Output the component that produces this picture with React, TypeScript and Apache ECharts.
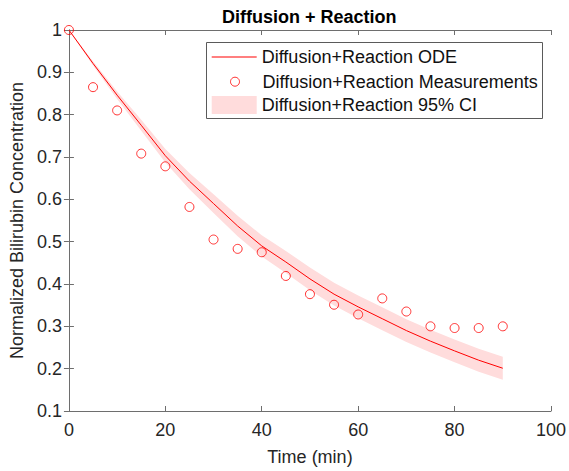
import React, { useEffect, useRef } from "react";
import * as echarts from "echarts";

const timeMin = [0, 5, 10, 15, 20, 25, 30, 35, 40, 45, 50, 55, 60, 65, 70, 75, 80, 85, 90];
const measured = [1.0, 0.865, 0.81, 0.708, 0.678, 0.582, 0.505, 0.483, 0.475, 0.419, 0.376, 0.351, 0.328, 0.366, 0.335, 0.3, 0.296, 0.296, 0.3];
const odeFit = [1.0, 0.921, 0.846, 0.775, 0.703, 0.643, 0.59, 0.537, 0.49, 0.452, 0.412, 0.376, 0.346, 0.318, 0.29, 0.265, 0.242, 0.22, 0.201];
const ciUpper = [1.0, 0.926, 0.855, 0.788, 0.719, 0.662, 0.612, 0.561, 0.515, 0.478, 0.439, 0.403, 0.373, 0.345, 0.317, 0.292, 0.269, 0.247, 0.228];
const ciLower = [1.0, 0.916, 0.837, 0.762, 0.687, 0.624, 0.568, 0.513, 0.465, 0.426, 0.385, 0.349, 0.319, 0.291, 0.263, 0.238, 0.215, 0.193, 0.174];

const titleText = "Diffusion + Reaction";
const xName = "Time (min)";
const yName = "Normalized Bilirubin Concentration";
const odeName = "Diffusion+Reaction ODE";
const measName = "Diffusion+Reaction Measurements";
const ciName = "Diffusion+Reaction 95% CI";

const FONT = "'Liberation Sans', Arial, Helvetica, sans-serif";
const RED = "#ff0000";
const BAND = "#ffdcdc";
const AXIS = "#6e6e6e";
const TXT = "#262626";

export default function App() {
  const ref = useRef<HTMLDivElement>(null);
  useEffect(() => {
    document.body.style.margin = "0";
    const chart = echarts.init(ref.current!, null, { renderer: "svg" });
    const axisCommon = {
      axisLine: { show: true, lineStyle: { color: AXIS, width: 1 } },
      axisTick: { show: true, inside: true, length: 5, lineStyle: { color: AXIS } },
      splitLine: { show: false },
    };
    const legendText = { fontSize: 18, color: "#111", fontFamily: FONT };
    chart.setOption({
      animation: false,
      backgroundColor: "#fff",
      textStyle: { fontFamily: FONT },
      title: {
        text: titleText,
        left: 222,
        top: 8,
        padding: 0,
        textStyle: { fontSize: 18, fontWeight: "bold", color: "#000", fontFamily: FONT },
      },
      grid: { left: 64, top: 30, right: 12, bottom: 55, containLabel: false },
      xAxis: [
        {
          type: "value",
          min: 0,
          max: 100,
          interval: 20,
          position: "bottom",
          name: xName,
          nameLocation: "middle",
          nameGap: 37,
          nameTextStyle: { fontSize: 18, color: TXT, fontFamily: FONT },
          axisLabel: { fontSize: 18, color: TXT, margin: 10, fontFamily: FONT },
          ...axisCommon,
        },
        {
          type: "value",
          min: 0,
          max: 100,
          interval: 20,
          position: "top",
          axisLabel: { show: false },
          ...axisCommon,
        },
      ],
      yAxis: [
        {
          type: "value",
          min: 0.1,
          max: 1,
          interval: 0.1,
          position: "left",
          name: yName,
          nameLocation: "middle",
          nameGap: 37,
          nameTextStyle: { fontSize: 18, color: TXT, fontFamily: FONT },
          axisLabel: { fontSize: 18, color: TXT, margin: 7, fontFamily: FONT },
          ...axisCommon,
        },
        {
          type: "value",
          min: 0.1,
          max: 1,
          interval: 0.1,
          position: "right",
          axisLabel: { show: false },
          ...axisCommon,
        },
      ],
      legend: [
        {
          data: [{ name: odeName, icon: "rect" }],
          left: 211.7,
          top: 48,
          padding: 0,
          itemWidth: 45,
          itemHeight: 1,
          selectedMode: false,
          itemStyle: { color: RED, borderWidth: 0 },
          textStyle: legendText,
        },
        {
          data: [{ name: measName, icon: "circle" }],
          left: 230,
          top: 72.7,
          padding: 0,
          itemWidth: 45,
          itemHeight: 9,
          selectedMode: false,
          itemStyle: { borderWidth: 1, borderColor: RED, color: "rgba(255,255,255,0)" },
          textStyle: legendText,
        },
        {
          data: [{ name: ciName, icon: "rect" }],
          left: 211.7,
          top: 96,
          padding: 0,
          itemWidth: 45,
          itemHeight: 18,
          selectedMode: false,
          itemStyle: { borderWidth: 0, color: BAND },
          textStyle: legendText,
        },
      ],
      graphic: [
        {
          type: "rect",
          z: 3,
          shape: { x: 206.5, y: 42.5, width: 336, height: 76 },
          style: { fill: "#fff", stroke: "#5a5a5a", lineWidth: 1 },
          silent: true,
        },
      ],
      series: [
        {
          name: ciName,
          type: "custom",
          data: timeMin.map((t, i) => [t, ciLower[i], ciUpper[i]]),
          encode: { x: 0, y: [1, 2] },
          itemStyle: { color: BAND },
          silent: true,
          z: 1,
          renderItem: (params: any, api: any) => {
            if (params.dataIndex !== 0) return null;
            const pts: number[][] = [];
            for (let i = 0; i < timeMin.length; i++) pts.push(api.coord([timeMin[i], ciUpper[i]]));
            for (let i = timeMin.length - 1; i >= 0; i--) pts.push(api.coord([timeMin[i], ciLower[i]]));
            return {
              type: "polygon",
              shape: { points: pts },
              style: { fill: BAND, stroke: "none" },
            };
          },
        },
        {
          name: odeName,
          type: "line",
          data: timeMin.map((t, i) => [t, odeFit[i]]),
          symbol: "none",
          lineStyle: { color: RED, width: 1 },
          itemStyle: { color: RED },
          z: 2,
        },
        {
          name: measName,
          type: "scatter",
          data: timeMin.map((t, i) => [t, measured[i]]),
          symbol: "circle",
          symbolSize: 9,
          itemStyle: { color: "rgba(255,255,255,0)", borderColor: RED, borderWidth: 1 },
          z: 2,
        },
      ],
    });
    return () => chart.dispose();
  }, []);
  return <div ref={ref} style={{ width: 569, height: 471 }} />;
}
